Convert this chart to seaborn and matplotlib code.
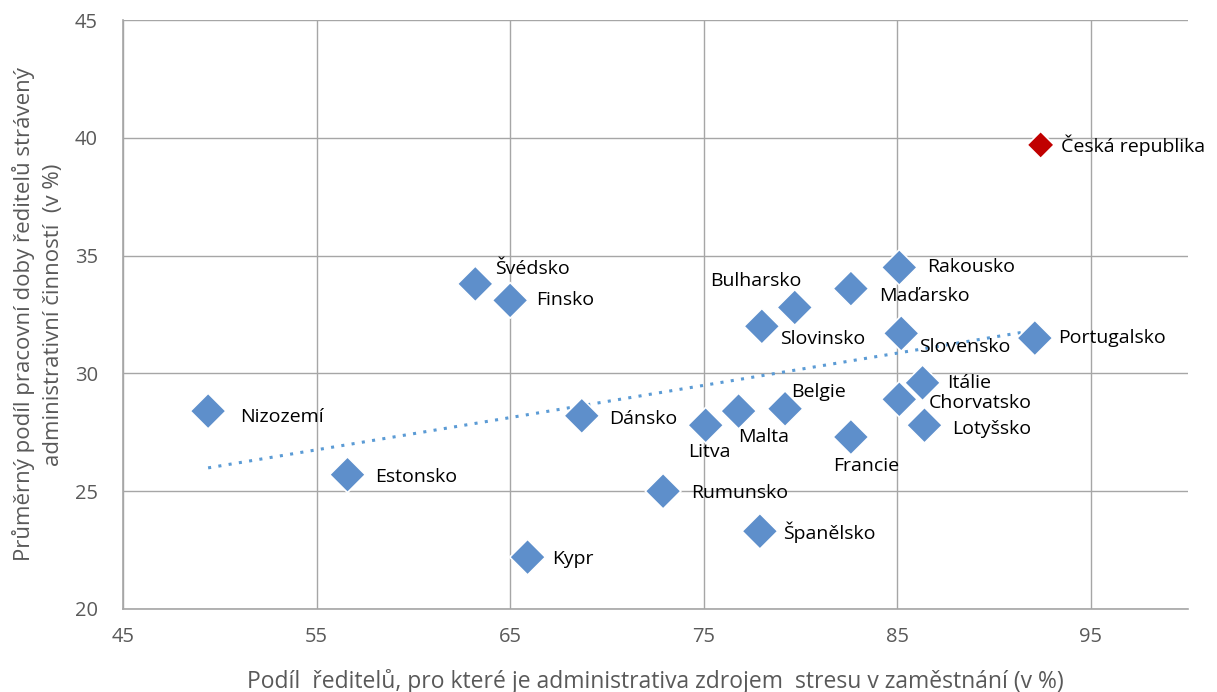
import numpy as np
import pandas as pd
import matplotlib
matplotlib.use("Agg")
import matplotlib.pyplot as plt
import seaborn as sns

# data
countries = ["Česká republika", "Rakousko", "Maďarsko", "Bulharsko", "Slovinsko",
             "Slovensko", "Portugalsko", "Švédsko", "Finsko", "Nizozemí",
             "Estonsko", "Dánsko", "Litva", "Malta", "Belgie", "Francie",
             "Itálie", "Chorvatsko", "Lotyšsko", "Rumunsko", "Španělsko", "Kypr"]
stress_share = [92.4, 85.1, 82.6, 79.7, 78.0, 85.2, 92.1, 63.2, 65.0, 49.4,
                56.6, 68.7, 75.1, 76.8, 79.2, 82.6, 86.3, 85.1, 86.4, 72.9, 77.9, 65.9]
admin_time = [39.7, 34.5, 33.6, 32.8, 32.0, 31.7, 31.5, 33.8, 33.1, 28.4,
              25.7, 28.2, 27.8, 28.4, 28.5, 27.3, 29.6, 28.9, 27.8, 25.0, 23.3, 22.2]

x_ticks = [45, 55, 65, 75, 85, 95]
y_ticks = [20, 25, 30, 35, 40, 45]

df = pd.DataFrame({"country": countries, "x": stress_share, "y": admin_time})
df["group"] = np.where(df["country"] == "Česká republika", "cz", "eu")

# label placement: offset in points, horizontal alignment
label_pos = {
    "Česká republika": (15, 0, "left"),
    "Rakousko": (20, 0, "left"),
    "Maďarsko": (20, -5, "left"),
    "Bulharsko": (-28, 19, "center"),
    "Slovinsko": (13, -9, "left"),
    "Slovensko": (13, -10, "left"),
    "Portugalsko": (17, 0, "left"),
    "Švédsko": (14, 11, "left"),
    "Finsko": (19, 0, "left"),
    "Nizozemí": (23, -4, "left"),
    "Estonsko": (20, -2, "left"),
    "Dánsko": (20, -2, "left"),
    "Litva": (3, -19, "center"),
    "Malta": (18, -19, "center"),
    "Belgie": (24, 12, "center"),
    "Francie": (11, -21, "center"),
    "Itálie": (18, 0, "left"),
    "Chorvatsko": (21, -3, "left"),
    "Lotyšsko": (20, -3, "left"),
    "Rumunsko": (20, -1, "left"),
    "Španělsko": (17, -1, "left"),
    "Kypr": (18, -1, "left"),
}

sns.set_style("white")
plt.rcParams["font.family"] = ["Open Sans", "DejaVu Sans"]

fig = plt.figure(figsize=(12.17, 6.92), dpi=100)
ax = fig.add_axes([0.101, 0.12, 0.875, 0.851])

ax.set_xlim(45, 100)
ax.set_ylim(20, 45)
ax.set_xticks(x_ticks)
ax.set_yticks(y_ticks)
ax.grid(True, color="#A6A6A6", linewidth=1.0)
ax.set_axisbelow(True)
for s in ["top", "right"]:
    ax.spines[s].set_visible(False)
for s in ["left", "bottom"]:
    ax.spines[s].set_color("#A6A6A6")
    ax.spines[s].set_linewidth(1.2)
ax.tick_params(axis="both", length=0, labelsize=14.5, labelcolor="#595959")
ax.tick_params(axis="x", pad=13)
ax.tick_params(axis="y", pad=18)

# linear trend (all countries)
k, q = np.polyfit(df["x"], df["y"], 1)
xs = np.array([df["x"].min(), df["x"].max()])
ax.plot(xs, k * xs + q, linestyle=(0, (1, 2.4)), color="#5B9BD5", linewidth=2.2, zorder=2)

sns.scatterplot(data=df, x="x", y="y", hue="group", style="group",
                markers={"cz": "D", "eu": "D"},
                palette={"cz": "#C00000", "eu": "#5E8FCB"},
                size="group", sizes={"cz": 190, "eu": 330},
                edgecolor="white", linewidth=1.2, legend=False, ax=ax, zorder=3)

for c, xv, yv in zip(countries, stress_share, admin_time):
    dx, dy, ha = label_pos[c]
    ax.annotate(c, (xv, yv), xytext=(dx, dy), textcoords="offset points",
                ha=ha, va="center", fontsize=14, color="#000000", zorder=4)

ax.set_xlabel("Podíl  ředitelů, pro které je administrativa zdrojem  stresu v zaměstnání (v %)",
              fontsize=16.5, color="#595959", labelpad=16)
ax.set_ylabel("Průměrný podíl pracovní doby ředitelů strávený\nadministrativní činností  (v %)",
              fontsize=16, color="#595959", labelpad=8, linespacing=1.45)

fig.savefig("out.png", dpi=100)
